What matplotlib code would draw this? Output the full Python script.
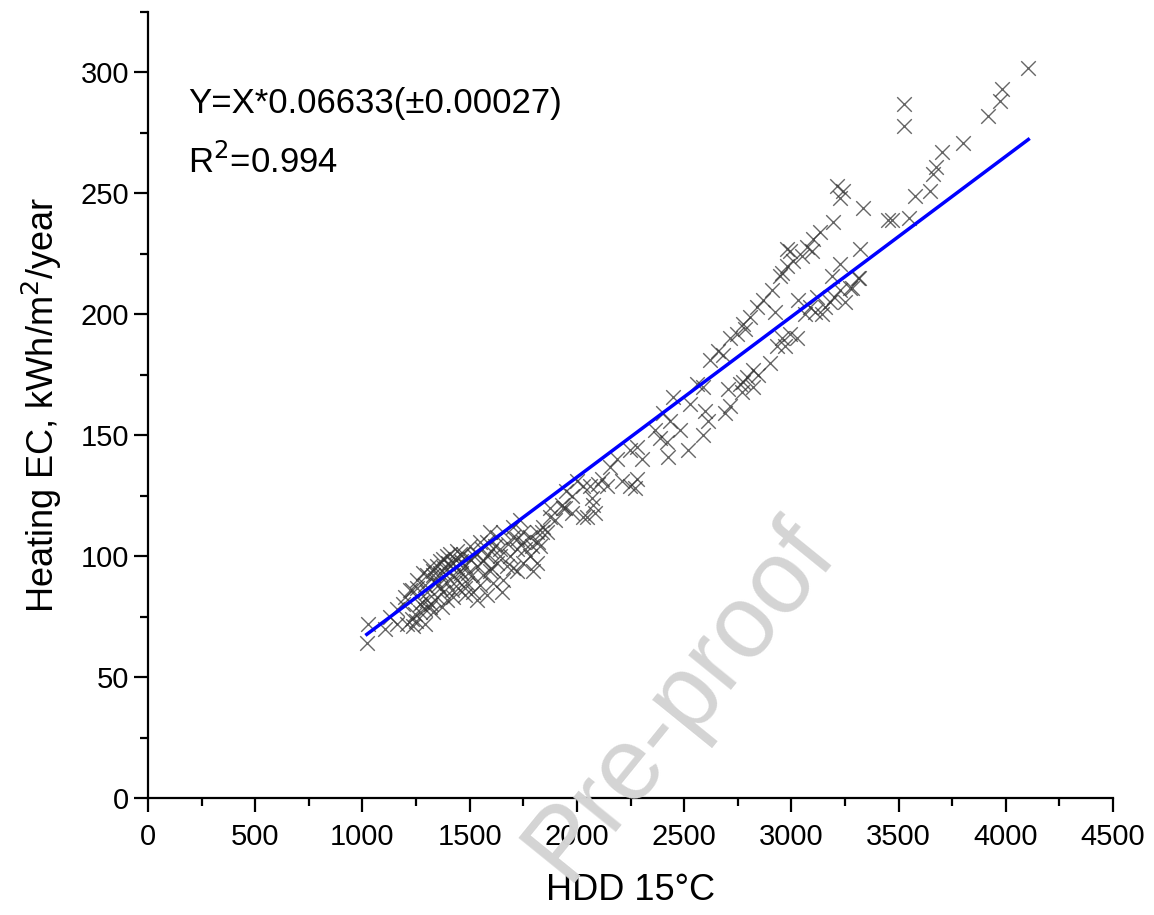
import numpy as np
import matplotlib.pyplot as plt

plt.rcParams['font.family'] = ['Liberation Sans', 'DejaVu Sans']

# points (HDD 15C, heating EC)
hdd_low = [1026, 1021, 1128, 1161, 1207, 1231, 1235, 1198, 1231, 1254, 1268, 1277, 1301, 1315, 1329,
           1301, 1329, 1347, 1375, 1408, 1441, 1361, 1394, 1375, 1417, 1347, 1422, 1455, 1478, 1501,
           1534, 1557, 1580, 1487, 1515, 1478, 1445, 1534, 1562, 1594, 1627, 1608, 1655, 1674, 1688,
           1720, 1748, 1781, 1814, 1828, 1795, 1720, 1748, 1841, 1874, 1627, 1655, 1702, 1734, 1594,
           1548, 1501, 1455, 1394, 1361, 1315, 1282, 1254, 1221, 1534, 1408, 1361, 1492, 1580, 1641,
           1748, 1291, 1245, 1371, 1394, 1781, 1814, 1874, 1935, 1860,
           1340, 1380, 1420, 1460, 1390, 1430, 1470, 1350, 1300, 1270, 1250, 1290, 1320, 1440, 1510,
           1560, 1600, 1640, 1680, 1700, 1760, 1790, 1820, 1700, 1650, 1550, 1580, 1600, 1480, 1420,
           1190, 1160, 1105, 1290, 1330, 1400, 1460, 1520, 1620, 1720]
ec_low = [72, 64, 75, 72, 72, 74, 71, 83, 86, 87, 77, 81, 82, 79, 77,
          92, 94, 96, 99, 101, 102, 87, 89, 85, 86, 83, 92, 94, 96, 99,
          101, 103, 106, 89, 85, 84, 87, 82, 92, 94, 97, 89, 90, 96, 100,
          103, 106, 108, 110, 104, 94, 94, 97, 112, 116, 108, 110, 112, 115, 110,
          106, 104, 101, 100, 98, 96, 93, 90, 86, 96, 96, 93, 93, 100, 103,
          110, 78, 76, 79, 82, 100, 97, 120, 120, 110,
          90, 95, 97, 98, 92, 99, 101, 88, 85, 80, 73, 72, 80, 90, 92,
          98, 102, 100, 105, 108, 103, 104, 106, 95, 85, 88, 84, 95, 87, 83,
          80, 78, 70, 88, 92, 97, 93, 100, 104, 107]

hdd_mid = [1977, 2070, 2075, 2028, 1930, 1944, 1977, 2047, 2084, 1837, 2116, 2140, 2098, 2061, 2210,
           2247, 2280, 2270, 2154, 2186, 2303, 2280, 2247, 2424, 2517, 2587, 2420, 2387, 2364, 2480,
           2434, 2401, 2611, 2597, 2527, 2448, 2690, 2713, 2559, 2587, 2704, 2760, 2821, 2774, 2028,
           1900, 1950, 2000]
ec_mid = [125, 124, 121, 129, 121, 120, 118, 116, 118, 110, 132, 129, 130, 129, 131,
          129, 132, 128, 137, 140, 140, 145, 144, 141, 144, 150, 147, 149, 152, 152,
          156, 159, 156, 160, 163, 166, 159, 162, 171, 170, 169, 171, 170, 172, 116,
          115, 127, 131]

hdd_high = [2620, 2657, 2713, 2783, 2774, 2807, 2867, 2909, 2946, 2956, 2979, 3007, 3049, 2993, 3072,
            3096, 2923, 2680, 2745, 2840,
            2769, 2793, 2844, 2821, 2900, 2932, 2970, 2956, 3026, 2993, 3063, 3142, 3110, 3086, 3156,
            3030, 3119, 3179, 3226, 3273, 3310, 3189, 3226, 3319, 3315, 3282, 3212, 3240, 3200, 3250,
            3225, 3193, 3133, 3100, 2979,
            4103, 3981, 3972, 3916, 3525, 3525, 3800, 3702, 3674, 3660, 3646, 3576, 3333, 3450, 3468,
            3548]
ec_high = [181, 185, 190, 194, 196, 199, 206, 210, 216, 217, 220, 222, 224, 226, 228,
           226, 201, 183, 192, 203,
           168, 174, 175, 177, 180, 187, 187, 190, 190, 192, 200, 200, 201, 203, 203,
           206, 207, 205, 210, 211, 215, 216, 221, 227, 215, 211, 253, 251, 207, 205,
           248, 238, 234, 231, 227,
           302, 293, 288, 282, 287, 278, 271, 267, 261, 258, 251, 249, 244, 239, 239,
           240]

hdd = np.array(hdd_low + hdd_mid + hdd_high)
ec = np.array(ec_low + ec_mid + ec_high)

slope = 0.06633
fit_x = np.array([1020, 4105])

fig = plt.figure(figsize=(11.54, 9.15), dpi=100)
ax = fig.add_axes([0.1283, 0.1279, 0.8362, 0.859])

# watermark
fig.text(0.59, 0.235, 'Pre-proof', fontsize=74, color='#d4d4d4', rotation=51,
         ha='center', va='center', zorder=0)
ax.set_facecolor('none')

ax.scatter(hdd, ec, marker='x', s=110, color='#333333', alpha=0.75, linewidths=1.0, zorder=2)
ax.plot(fit_x, slope * fit_x, color='#0000ff', lw=2.5, zorder=3)

ax.text(186, 287, 'Y=X*0.06633(\u00b10.00027)', fontsize=25, va='center')
ax.text(186, 263, 'R$^2$=0.994', fontsize=25, va='center')

ax.set_xlim(0, 4500)
ax.set_ylim(0, 325)
ax.set_xticks(np.arange(0, 4501, 500))
ax.set_yticks(np.arange(0, 301, 50))
ax.set_xticks(np.arange(250, 4500, 500), minor=True)
ax.set_yticks(np.arange(25, 326, 50), minor=True)
ax.spines['top'].set_visible(False)
ax.spines['right'].set_visible(False)
for s in ['left', 'bottom']:
    ax.spines[s].set_linewidth(1.6)
ax.tick_params(which='major', length=10, width=1.6, labelsize=21, direction='out')
ax.tick_params(which='minor', length=6, width=1.6, direction='out')
ax.tick_params(axis='x', which='major', pad=8)

ax.set_xlabel('HDD 15\u00b0C', fontsize=26, labelpad=16)
ax.set_ylabel('Heating EC, kWh/m$^2$/year', fontsize=26, labelpad=12)

plt.savefig('out.png', dpi=100)
